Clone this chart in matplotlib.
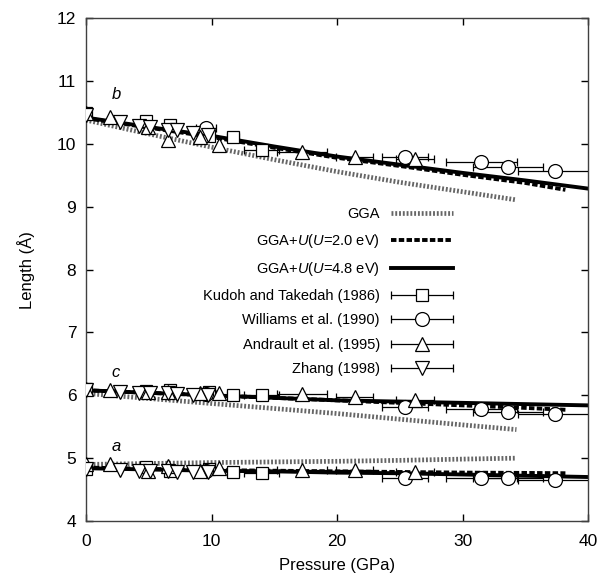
import matplotlib
matplotlib.use('Agg')
import matplotlib.pyplot as plt
from matplotlib.container import ErrorbarContainer
from matplotlib.legend_handler import HandlerErrorbar

plt.rcParams['font.family'] = ['Liberation Sans', 'DejaVu Sans']
plt.rcParams['mathtext.fontset'] = 'custom'
plt.rcParams['mathtext.it'] = 'Liberation Sans:italic'
plt.rcParams['mathtext.rm'] = 'Liberation Sans'

# theory curves (GPa, Angstrom)
P_gga = [0, 5, 10, 15, 20, 25, 30, 34.3]
gga_b = [10.38, 10.16, 9.95, 9.75, 9.56, 9.39, 9.24, 9.11]
gga_c = [6.03, 5.95, 5.87, 5.79, 5.71, 5.62, 5.53, 5.455]
gga_a = [4.90, 4.915, 4.93, 4.94, 4.95, 4.965, 4.985, 5.00]

P_u2 = [0, 5, 10, 15, 20, 25, 30, 35, 38.2]
u2_b = [10.41, 10.26, 10.11, 9.94, 9.78, 9.65, 9.51, 9.38, 9.27]
u2_c = [6.08, 6.04, 6.00, 5.96, 5.92, 5.88, 5.84, 5.80, 5.77]
u2_a = [4.85, 4.83, 4.81, 4.80, 4.79, 4.78, 4.77, 4.765, 4.76]

P_u48 = [0, 5, 10, 15, 20, 25, 30, 35, 40]
u48_b = [10.42, 10.27, 10.13, 9.96, 9.80, 9.67, 9.54, 9.42, 9.29]
u48_c = [6.08, 6.04, 6.00, 5.96, 5.92, 5.90, 5.88, 5.86, 5.84]
u48_a = [4.84, 4.82, 4.80, 4.79, 4.77, 4.76, 4.74, 4.72, 4.70]

# experiments
P_kudoh = [0, 4.8, 6.7, 9.8, 11.7, 14.0]
kudoh_xerr = [0, 0, 0, 0, 0.5, 1.4]
kudoh_b = [10.49, 10.36, 10.30, 10.12, 10.11, 9.90]
kudoh_c = [6.10, 6.07, 6.08, 6.05, 6.00, 6.00]
kudoh_a = [4.83, 4.86, 4.79, 4.82, 4.78, 4.77]

P_will = [9.56, 25.4, 31.5, 33.65, 37.4]
will_xerr = [0.8, 1.85, 2.85, 2.8, 3.0]
will_b = [10.25, 9.80, 9.72, 9.64, 9.57]
will_c = [6.02, 5.81, 5.78, 5.74, 5.71]
will_a = [4.80, 4.68, 4.68, 4.68, 4.66]

P_andr = [0, 1.9, 4.97, 6.56, 9.08, 10.6, 17.2, 21.4, 26.2]
andr_xerr = [0, 0, 0, 0, 0, 0, 2.0, 1.5, 1.5]
andr_b = [10.50, 10.43, 10.27, 10.06, 10.11, 9.98, 9.88, 9.80, 9.755]
andr_c = [6.10, 6.08, 6.05, 6.06, 6.03, 6.03, 6.02, 5.975, 5.92]
andr_a = [4.91, 4.90, 4.80, 4.88, 4.80, 4.84, 4.81, 4.81, 4.78]

P_zhang = [0, 2.7, 4.25, 5.1, 6.56, 7.22, 8.55, 9.75]
zhang_xerr = [0, 0, 0, 0, 0, 0, 0, 0]
zhang_b = [10.46, 10.35, 10.29, 10.27, 10.22, 10.22, 10.17, 10.14]
zhang_c = [6.08, 6.05, 6.03, 6.03, 6.03, 6.02, 6.01, 6.00]
zhang_a = [4.82, 4.81, 4.80, 4.80, 4.79, 4.78, 4.78, 4.78]

fig = plt.figure(figsize=(5.99, 5.77), dpi=100)
ax = fig.add_axes([86/599, 1 - 521/577, 502/599, 502.7/577])

gga_style = dict(color='0.4', lw=3.4, dashes=(0.4, 0.4))
u2_style = dict(color='black', lw=2.8, dashes=(1.4, 0.6))
u48_style = dict(color='black', lw=2.8)

for i, (g, u2, u48) in enumerate([(gga_b, u2_b, u48_b), (gga_c, u2_c, u48_c), (gga_a, u2_a, u48_a)]):
    ax.plot(P_gga, g, label='GGA' if i == 0 else None, **gga_style)
    ax.plot(P_u2, u2, label='GGA+$U$($U$=2.0 eV)' if i == 0 else None, **u2_style)
    ax.plot(P_u48, u48, label='GGA+$U$($U$=4.8 eV)' if i == 0 else None, **u48_style)

mk = dict(mfc='white', mec='black', mew=0.9, ecolor='black', elinewidth=0.9,
          capsize=3, capthick=0.9, linestyle='none', zorder=3)

exps = [
    (P_kudoh, kudoh_xerr, [kudoh_b, kudoh_c, kudoh_a], 's', 9, 'Kudoh and Takedah (1986)'),
    (P_will, will_xerr, [will_b, will_c, will_a], 'o', 10, 'Williams et al. (1990)'),
    (P_andr, andr_xerr, [andr_b, andr_c, andr_a], '^', 10, 'Andrault et al. (1995)'),
    (P_zhang, zhang_xerr, [zhang_b, zhang_c, zhang_a], 'v', 10, 'Zhang (1998)'),
]
for P, xe, rows, m, ms, lab in exps:
    for i, y in enumerate(rows):
        ax.errorbar(P, y, xerr=xe, fmt=m, ms=ms, label=lab if i == 0 else None, **mk)

ax.text(2.4, 10.78, 'b', style='italic', fontsize=12, ha='center', va='center')
ax.text(2.4, 6.37, 'c', style='italic', fontsize=12, ha='center', va='center')
ax.text(2.4, 5.18, 'a', style='italic', fontsize=12, ha='center', va='center')

ax.set_xlim(0, 40)
ax.set_ylim(4, 12)
ax.set_xticks([0, 10, 20, 30, 40])
ax.set_yticks(range(4, 13))
ax.tick_params(direction='in', length=5, width=1, top=True, right=True, labelsize=12.5)
ax.tick_params(axis='x', pad=9)
ax.tick_params(axis='y', pad=7)
for s in ax.spines.values():
    s.set_linewidth(1)
    s.set_color('0.25')
ax.set_xlabel('Pressure (GPa)', fontsize=12, labelpad=7)
ax.set_ylabel('Length (Å)', fontsize=12, labelpad=16)

ax.legend(loc='center right', bbox_to_anchor=((452.7 - 86) / 502, 1 - (291.7 - 18.3) / 502.7),
          frameon=False, markerfirst=False, fontsize=10.5, handlelength=4.2,
          handletextpad=0.8, labelspacing=0.72, borderpad=0, borderaxespad=0,
          handler_map={ErrorbarContainer: HandlerErrorbar(xerr_size=2.1)})

fig.savefig('out.png', dpi=100)
